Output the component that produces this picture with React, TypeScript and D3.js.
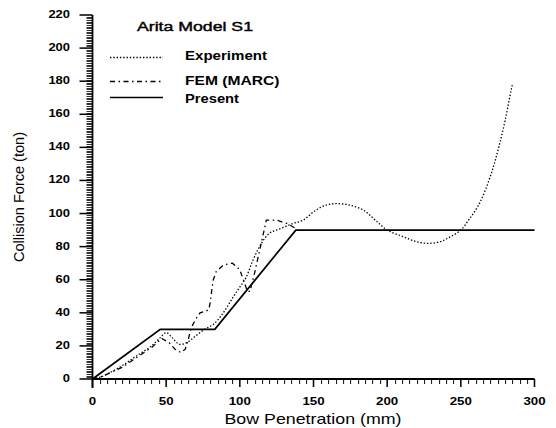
import React from "react";
import * as d3 from "d3";

const xTickValues = [0, 50, 100, 150, 200, 250, 300];
const yTickValues = [0, 20, 40, 60, 80, 100, 120, 140, 160, 180, 200, 220];

const legendTitle = "Arita Model S1";
const seriesNames = ["Experiment", "FEM (MARC)", "Present"];

const experiment: [number, number][] = [
  [0, 0], [5, 1], [10, 3], [20, 8], [30, 14], [40, 20], [46, 25], [50, 28],
  [54, 25], [59, 21], [64, 22], [70, 26], [76, 30], [82, 33], [88, 39],
  [93, 46], [98, 53], [104, 61], [109, 72], [114, 81], [120, 88], [128, 91],
  [136, 94], [143, 96], [150, 101], [158, 105], [166, 106], [175, 105],
  [184, 102], [192, 96], [200, 90], [211, 86], [220, 83], [228, 82],
  [236, 83], [243, 86], [250, 90], [256, 97], [262, 105], [267, 115],
  [272, 128], [276, 141], [280, 156], [284, 174], [285, 178],
];

const fem: [number, number][] = [
  [0, 0], [5, 1], [10, 3], [20, 7], [30, 13], [40, 19], [47, 24.5], [52, 22],
  [56, 18], [60, 16], [63, 18], [65, 24], [67, 31], [70, 36], [73, 40],
  [77, 41], [79, 42], [80, 47], [81, 54], [82, 60], [84, 65], [89, 69],
  [95, 70], [100, 66], [102, 61], [104, 56], [105, 53], [107, 53], [108, 57],
  [110, 64], [112, 72], [115, 84], [118, 96], [125, 96], [132, 94], [138, 91],
];

const present: [number, number][] = [
  [0, 0], [46, 30], [83, 30], [138, 90], [300, 90],
];

const W = 556;
const H = 428;
const INK = "#000";

export default function App() {
  const x = d3.scaleLinear().domain([0, 300]).range([92.5, 534.5]);
  const y = d3.scaleLinear().domain([0, 220]).range([379, 15]);

  const smooth = d3
    .line<[number, number]>()
    .x((d) => x(d[0]))
    .y((d) => y(d[1]))
    .curve(d3.curveCatmullRom.alpha(0.5));
  const linear = d3
    .line<[number, number]>()
    .x((d) => x(d[0]))
    .y((d) => y(d[1]));

  const yMinor = d3.range(0, 221, 1).filter((v) => v % 20 !== 0);
  const xMinor = d3.range(0, 301, 5).filter((v) => v % 50 !== 0);
  const x0 = x(0);
  const y0 = y(0);

  const font = "'Liberation Sans', Arial, sans-serif";

  const legendRows = [
    { name: seriesNames[0], ly: 57.5, ty: 59.5, tl: 82, dash: "1.4,1.9", w: 1.3 },
    { name: seriesNames[1], ly: 81.5, ty: 85, tl: 94.5, dash: "5,3.5,1.5,3.5", w: 1.3 },
    { name: seriesNames[2], ly: 97.5, ty: 102.5, tl: 54, dash: null, w: 1.5 },
  ];

  return (
    <svg width={W} height={H} style={{ position: "absolute", left: 0, top: 0 }}>
      {/* tick marks as filled rects */}
      {yMinor.map((v) => (
        <rect key={"ym" + v} x={x0 - 6} y={Math.round(y(v))} width={6} height={1} fill="#333" />
      ))}
      {yTickValues.map((v) => (
        <rect key={"yM" + v} x={x0 - 13} y={y(v) - 0.75} width={13} height={1.5} fill={INK} />
      ))}
      {xMinor.map((v) => (
        <rect key={"xm" + v} x={Math.round(x(v))} y={y0} width={1.1} height={5} fill="#222" />
      ))}
      {xTickValues.map((v) => (
        <rect key={"xM" + v} x={x(v) - 0.75} y={y0} width={1.5} height={8} fill={INK} />
      ))}

      <line x1={x0} x2={x0} y1={y(220)} y2={388} stroke={INK} strokeWidth={1.8} />
      <line x1={x0} x2={x(300)} y1={y0} y2={y0} stroke={INK} strokeWidth={1.8} />

      {yTickValues.map((v) => (
        <text
          key={"yl" + v}
          x={70}
          y={y(v) + 3}
          textAnchor="end"
          fontFamily={font}
          fontSize={10.5}
          fontWeight="bold"
          fill={INK}
          textLength={String(v).length * 7.2}
          lengthAdjust="spacingAndGlyphs"
        >
          {v}
        </text>
      ))}

      {xTickValues.map((v) => (
        <text
          key={"xl" + v}
          x={x(v)}
          y={405}
          textAnchor="middle"
          fontFamily={font}
          fontSize={10.5}
          fontWeight="bold"
          fill={INK}
          textLength={String(v).length * 7.4}
          lengthAdjust="spacingAndGlyphs"
        >
          {v}
        </text>
      ))}

      <text
        x={313}
        y={424}
        textAnchor="middle"
        fontFamily={font}
        fontSize={14.5}
        fill={INK}
        textLength={177}
        lengthAdjust="spacingAndGlyphs"
      >
        Bow Penetration (mm)
      </text>
      <text
        transform="translate(24,197) rotate(-90)"
        textAnchor="middle"
        fontFamily={font}
        fontSize={14.5}
        fill={INK}
        textLength={130}
        lengthAdjust="spacingAndGlyphs"
      >
        Collision Force (ton)
      </text>

      <path d={smooth(experiment) || ""} fill="none" stroke={INK} strokeWidth={1.3} strokeDasharray="1.4,1.9" />
      <path d={linear(fem) || ""} fill="none" stroke={INK} strokeWidth={1.3} strokeDasharray="5,3.5,1.5,3.5" />
      <path d={linear(present) || ""} fill="none" stroke={INK} strokeWidth={1.7} />

      <text
        x={137}
        y={31}
        fontFamily={font}
        fontSize={12.5}
        fill={INK}
        stroke={INK}
        strokeWidth={0.4}
        textLength={116}
        lengthAdjust="spacingAndGlyphs"
      >
        {legendTitle}
      </text>
      {legendRows.map((r) => (
        <g key={r.name}>
          <line
            x1={110}
            x2={163}
            y1={r.ly}
            y2={r.ly}
            stroke={INK}
            strokeWidth={r.w}
            strokeDasharray={r.dash || undefined}
          />
          <text
            x={185}
            y={r.ty}
            fontFamily={font}
            fontSize={12.5}
            fontWeight="bold"
            fill={INK}
            textLength={r.tl}
            lengthAdjust="spacingAndGlyphs"
          >
            {r.name}
          </text>
        </g>
      ))}
    </svg>
  );
}
